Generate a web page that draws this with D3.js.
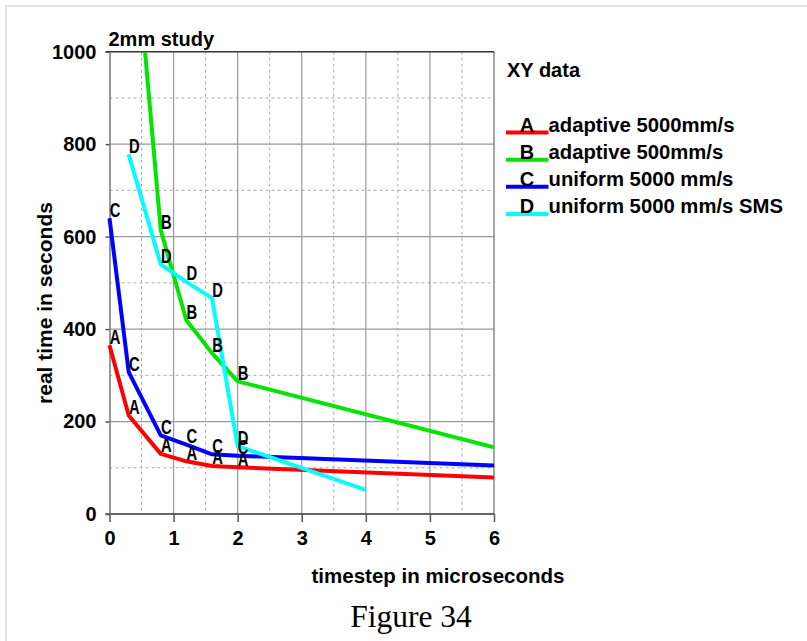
<!DOCTYPE html>
<html>
<head>
<meta charset="utf-8">
<script src="https://cdn.jsdelivr.net/npm/d3@7"></script>
<style>
  html, body { margin: 0; padding: 0; background: #fff; }
  svg { display: block; }
  text { font-family: "Liberation Sans", Arial, sans-serif; }
</style>
</head>
<body>
<svg id="chart" width="807" height="641"></svg>
<script>
// ---- data ----
const seriesKeys = ["A", "B", "C", "D"];
const seriesNames = ["adaptive 5000mm/s", "adaptive 500mm/s", "uniform 5000 mm/s", "uniform 5000 mm/s SMS"];
const seriesColors = ["#ff0000", "#00e600", "#0000ff", "#00ffff"];
const xA = [0, 0.3, 0.8, 1.2, 1.6, 2.0, 6];
const yA = [365, 213, 130, 114, 104, 101, 79];
const xB = [0.3, 0.8, 1.2, 1.6, 2.0, 6];
const yB = [1400, 614, 419, 348, 287, 144];
const xC = [0, 0.3, 0.8, 1.2, 1.6, 2.0, 6];
const yC = [640, 307, 170, 150, 129, 126, 105];
const xD = [0.3, 0.8, 1.2, 1.6, 2.0, 4];
const yD = [778, 540, 502, 467, 147, 52];
const labelMaxX = 2.0;  // points beyond this carry no letter marker
const xTicks = [0, 1, 2, 3, 4, 5, 6];
const yTicks = [0, 200, 400, 600, 800, 1000];
const xMinor = [0.5, 1.5, 2.5, 3.5, 4.5, 5.5];
const yMinor = [100, 300, 500, 700, 900];
const titleText = "2mm study";
const legendTitle = "XY data";
const xLabel = "timestep in microseconds";
const yLabel = "real time in seconds";
const caption = "Figure 34";

const seriesX = [xA, xB, xC, xD];
const seriesY = [yA, yB, yC, yD];

// ---- layout ----
const svg = d3.select("#chart");
const L = 109.5, R = 494, T = 51.7, B = 514;
const x = d3.scaleLinear().domain([0, 6]).range([L, R]);
const y = d3.scaleLinear().domain([0, 1000]).range([B, T]);

// outer frame
svg.append("rect").attr("x", 6).attr("y", 6).attr("width", 820).attr("height", 660)
  .attr("fill", "none").attr("stroke", "#e4e4e4").attr("stroke-width", 2);

// grid
const g = svg.append("g");
g.selectAll(".xminor").data(xMinor).join("line")
  .attr("x1", d => x(d)).attr("x2", d => x(d)).attr("y1", T).attr("y2", B)
  .attr("stroke", "#aaa").attr("stroke-width", 1).attr("stroke-dasharray", "3,3");
g.selectAll(".yminor").data(yMinor).join("line")
  .attr("x1", L).attr("x2", R).attr("y1", d => y(d)).attr("y2", d => y(d))
  .attr("stroke", "#aaa").attr("stroke-width", 1).attr("stroke-dasharray", "3,3");
g.selectAll(".xmajor").data(xTicks.filter(d => d > 0 && d < 6)).join("line")
  .attr("x1", d => x(d)).attr("x2", d => x(d)).attr("y1", T).attr("y2", B)
  .attr("stroke", "#999").attr("stroke-width", 1.2);
g.selectAll(".ymajor").data(yTicks.filter(d => d > 0 && d < 1000)).join("line")
  .attr("x1", L).attr("x2", R).attr("y1", d => y(d)).attr("y2", d => y(d))
  .attr("stroke", "#999").attr("stroke-width", 1.2);
// right border
g.append("line").attr("x1", x(6)).attr("x2", x(6)).attr("y1", T).attr("y2", B)
  .attr("stroke", "#888").attr("stroke-width", 1.5);
// top border
g.append("line").attr("x1", L - 4).attr("x2", R).attr("y1", y(1000)).attr("y2", y(1000))
  .attr("stroke", "#333").attr("stroke-width", 1.5);

// axes
const xAxis = svg.append("g").attr("transform", `translate(0,${B})`)
  .call(d3.axisBottom(x).tickValues(xTicks).tickSize(8).tickSizeOuter(0).tickPadding(8.8).tickFormat(d3.format("d")));
xAxis.select(".domain").attr("stroke", "#333").attr("stroke-width", 1.5).attr("d", `M${L - 4},0H${R}`);
xAxis.selectAll(".tick line").attr("stroke", "#555").attr("stroke-width", 1.5);
xAxis.selectAll("text").attr("font-size", 20).attr("font-weight", "bold").attr("fill", "#000");

const yAxis = svg.append("g").attr("transform", `translate(${L},0)`)
  .call(d3.axisLeft(y).tickValues(yTicks).tickSize(4).tickSizeOuter(0).tickPadding(9).tickFormat(d3.format("d")));
yAxis.select(".domain").attr("stroke", "#777").attr("stroke-width", 1.5);
yAxis.selectAll(".tick line").attr("stroke", "#555").attr("stroke-width", 1.5);
yAxis.selectAll("text").attr("font-size", 20).attr("font-weight", "bold").attr("fill", "#000");

// clip
svg.append("clipPath").attr("id", "plotclip").append("rect")
  .attr("x", L - 3).attr("y", T).attr("width", R - L + 3).attr("height", B - T);

const line = d3.line().x(d => x(d[0])).y(d => y(d[1]));
const plot = svg.append("g").attr("clip-path", "url(#plotclip)");
seriesKeys.forEach((k, i) => {
  const pts = seriesX[i].map((xv, j) => [xv, seriesY[i][j]]);
  plot.append("path").datum(pts).attr("d", line)
    .attr("fill", "none").attr("stroke", seriesColors[i]).attr("stroke-width", 4)
    .attr("stroke-linejoin", "round");
});
const labels = svg.append("g");
seriesKeys.forEach((k, i) => {
  const pts = seriesX[i].map((xv, j) => [xv, seriesY[i][j]])
    .filter(d => d[0] <= labelMaxX && d[1] <= y.domain()[1]);
  labels.selectAll(null).data(pts).join("text")
    .attr("transform", d => `translate(${x(d[0]) + 5.5},${y(d[1]) - 1.5}) scale(0.72,1)`)
    .attr("text-anchor", "middle").attr("font-size", 20.5).attr("font-weight", "bold")
    .attr("fill", "#000").text(k);
});

// title
svg.append("text").attr("x", 108.5).attr("y", 46).attr("font-size", 20).attr("font-weight", "bold").text(titleText);

// axis labels
svg.append("text").attr("x", 438).attr("y", 583).attr("text-anchor", "middle")
  .attr("font-size", 20.5).attr("font-weight", "bold").text(xLabel);
svg.append("text").attr("transform", "translate(52,303) rotate(-90)").attr("text-anchor", "middle")
  .attr("font-size", 21).attr("font-weight", "bold").text(yLabel);

// caption
svg.append("text").attr("x", 411).attr("y", 627).attr("text-anchor", "middle")
  .style("font-family", "'Liberation Serif', 'Times New Roman', serif").attr("font-size", 31.5).text(caption);

// legend
const lg = svg.append("g");
lg.append("text").attr("x", 507).attr("y", 77).attr("font-size", 20).attr("font-weight", "bold").text(legendTitle);
const rowY = d3.scaleLinear().domain([0, 3]).range([131.5, 213]);
seriesKeys.forEach((k, i) => {
  const yy = rowY(i);
  lg.append("line").attr("x1", 506).attr("x2", 548.5).attr("y1", yy + 1).attr("y2", yy + 1)
    .attr("stroke", seriesColors[i]).attr("stroke-width", 4);
  lg.append("text").attr("x", 527).attr("y", yy).attr("text-anchor", "middle")
    .attr("font-size", 20).attr("font-weight", "bold").text(k);
  lg.append("text").attr("x", 548.5).attr("y", yy).attr("font-size", 20.3).attr("font-weight", "bold").text(seriesNames[i]);
});
</script>
</body>
</html>
